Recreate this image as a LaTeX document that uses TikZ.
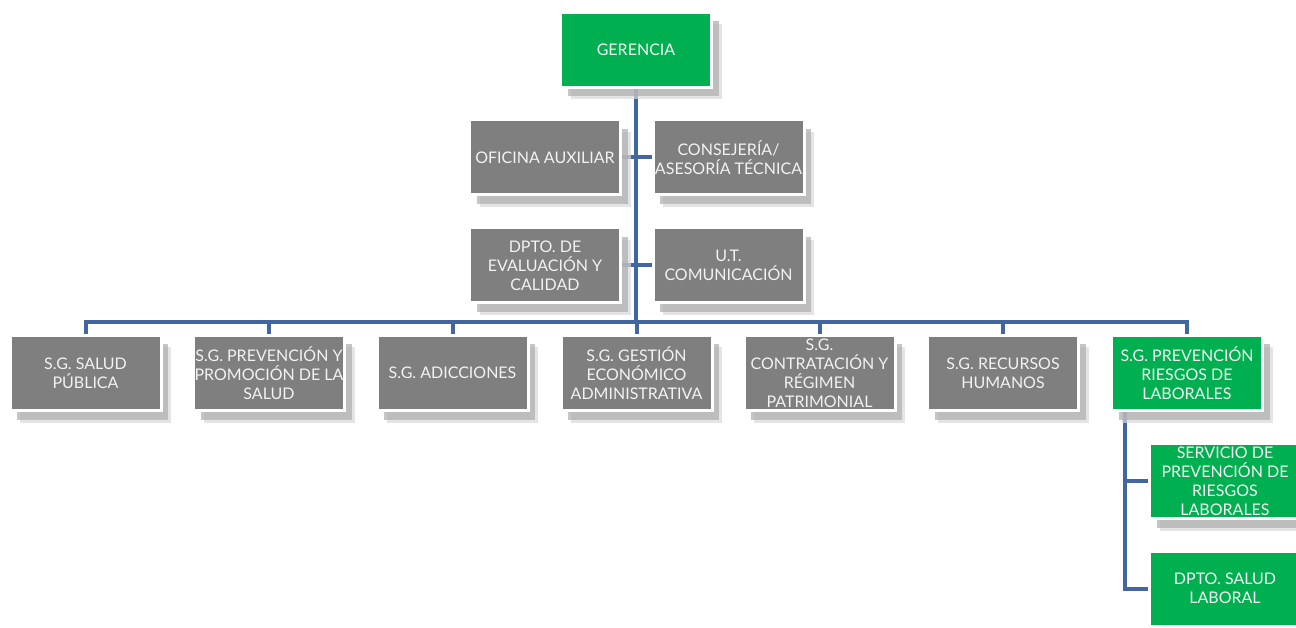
\documentclass[tikz,border=0pt]{standalone}
\usepackage{fontspec}
\setmainfont{Lato}
\usetikzlibrary{shadows}
\definecolor{ogreen}{RGB}{0,176,80}
\definecolor{ogray}{RGB}{127,127,127}
\definecolor{oline}{RGB}{66,103,160}
\pgfdeclarelayer{background}
\pgfsetlayers{background,main}
\tikzset{
  orgbox/.style={rectangle, minimum width=151pt, minimum height=75pt, inner sep=0pt,
    draw=white, line width=3pt, text=white!95!black, align=center,
    font=\fontsize{16}{19}\selectfont,
    drop shadow={shadow xshift=10pt, shadow yshift=-12pt, fill=black!15, opacity=0.7},
    drop shadow={shadow xshift=7pt, shadow yshift=-9pt, fill=black!32, opacity=0.7}},
  graybox/.style={orgbox, fill=ogray},
  greenbox/.style={orgbox, fill=ogreen},
  conn/.style={draw=oline, line width=4pt}
}
\begin{document}
\begin{tikzpicture}[x=1pt,y=-1pt]
\useasboundingbox (0,0) rectangle (1296,628);
\node[greenbox] (ger) at (636,50) {GERENCIA};
\node[graybox] (ofi) at (545,157.5) {OFICINA AUXILIAR};
\node[graybox] (con) at (728.5,157.5) {CONSEJERÍA/\\ASESORÍA TÉCNICA};
\node[graybox] (eva) at (545,265.5) {DPTO. DE\\EVALUACIÓN Y\\CALIDAD};
\node[graybox] (com) at (728.5,265.5) {U.T.\\COMUNICACIÓN};
\node[graybox] (b1) at (85.5,373) {S.G. SALUD\\PÚBLICA};
\node[graybox] (b2) at (269,373) {S.G. PREVENCIÓN Y\\PROMOCIÓN DE LA\\SALUD};
\node[graybox] (b3) at (452.5,373) {S.G. ADICCIONES};
\node[graybox] (b4) at (636.5,373) {S.G. GESTIÓN\\ECONÓMICO\\ADMINISTRATIVA};
\node[graybox] (b5) at (819.5,373) {S.G.\\CONTRATACIÓN Y\\RÉGIMEN\\PATRIMONIAL};
\node[graybox] (b6) at (1003,373) {S.G. RECURSOS\\HUMANOS};
\node[greenbox] (b7) at (1187,373) {S.G. PREVENCIÓN\\RIESGOS DE\\LABORALES};
\node[greenbox] (s1) at (1225,481) {SERVICIO DE\\PREVENCIÓN DE\\RIESGOS\\LABORALES};
\node[greenbox] (s2) at (1225,588.5) {DPTO. SALUD\\LABORAL};
\coordinate (bar) at (636,322);
\coordinate (sub) at (1125,409);
\begin{pgfonlayer}{background}
\draw[conn] (ger.south) -- (bar);
\draw[conn] (ofi.east) -- (con.west);
\draw[conn] (eva.east) -- (com.west);
\draw[conn] ([xshift=-2pt]b1.north |- bar) -- ([xshift=2pt]b7.north |- bar);
\foreach \b in {b1,b2,b3,b4,b5,b6,b7} {\draw[conn] (\b.north) -- (\b.north |- bar);}
\draw[conn] (sub) |- (s1.west);
\draw[conn] (sub) |- (s2.west);
\end{pgfonlayer}
\end{tikzpicture}
\end{document}
